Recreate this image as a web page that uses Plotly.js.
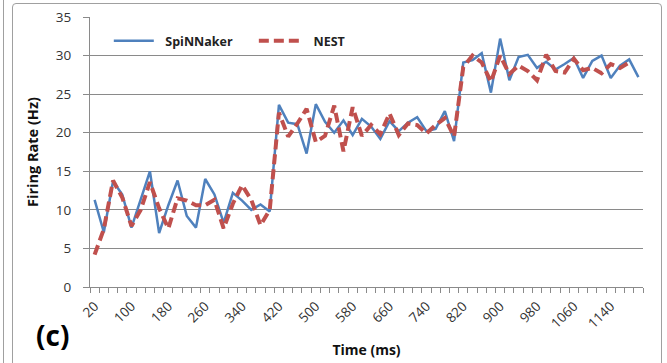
<!DOCTYPE html>
<html>
<head>
<meta charset="utf-8">
<script src="https://cdn.plot.ly/plotly-3.0.1.min.js"></script>
<style>
  html, body { margin: 0; padding: 0; background: #fff; }
  #wrap { position: relative; width: 667px; height: 363px; overflow: hidden; }
  #chart { width: 667px; height: 363px; }
  .frame { position: absolute; pointer-events: none; border: 1px solid #a0a0a0; }
</style>
</head>
<body>
<div id="wrap">
  <div id="chart"></div>
  <div class="frame" style="left:12px; top:3px; width:648px; height:370px; border-radius:4px;"></div>
  <div class="frame" style="left:3px; top:-5px; width:0; height:380px; border-width:0 1px 0 0;"></div>
</div>
<script>
// Time categories (ms)
const timeMs = [20, 40, 60, 80, 100, 120, 140, 160, 180, 200,
                220, 240, 260, 280, 300, 320, 340, 360, 380, 400,
                420, 440, 460, 480, 500, 520, 540, 560, 580, 600,
                620, 640, 660, 680, 700, 720, 740, 760, 780, 800,
                820, 840, 860, 880, 900, 920, 940, 960, 980, 1000,
                1020, 1040, 1060, 1080, 1100, 1120, 1140, 1160, 1180, 1200];

// Firing rate (Hz)
const spinnaker = [11.3, 7.1, 13.7, 12.0, 7.7, 11.2, 15.0, 7.0, 10.6, 13.8,
                   9.2, 7.7, 14.0, 12.0, 8.3, 12.2, 11.2, 10.0, 10.7, 9.8,
                   23.6, 21.3, 21.1, 17.3, 23.7, 21.4, 20.0, 21.6, 19.7, 21.8,
                   20.8, 19.2, 21.5, 20.2, 21.3, 22.0, 20.2, 20.5, 22.8, 18.9,
                   29.1, 29.4, 30.3, 25.2, 32.2, 26.8, 29.8, 30.1, 28.4, 29.2,
                   28.2, 28.9, 29.7, 27.1, 29.3, 30.0, 27.1, 28.7, 29.5, 27.2];

const nest = [4.2, 7.5, 13.8, 11.6, 7.9, 10.0, 13.6, 10.2, 7.6, 11.5,
              11.2, 10.6, 10.6, 11.3, 7.6, 10.8, 13.2, 11.3, 8.0, 10.0,
              22.6, 19.5, 21.2, 23.1, 18.8, 19.6, 23.5, 17.6, 23.3, 19.6,
              21.0, 19.8, 22.5, 19.7, 21.2, 21.0, 19.9, 21.0, 21.9, 19.5,
              28.5, 30.0, 29.1, 26.6, 30.0, 27.6, 28.7, 28.0, 26.8, 30.1,
              28.0, 27.8, 29.6, 28.1, 28.4, 27.7, 28.9, 28.4, 29.1, null];

// Labelled ticks on the time axis
const xTickLabels = [20, 100, 180, 260, 340, 420, 500, 580, 660, 740, 820, 900, 980, 1060, 1140];

const seriesNames = ['SpiNNaker', 'NEST'];

const font = '"Open Sans", "Noto Sans", "Liberation Sans", sans-serif';
const gridGray = '#8a8a8a';
const nb = '\u00A0';

const traces = [
  {
    x: timeMs, y: spinnaker, name: nb + nb + seriesNames[0] + nb + nb + nb + nb + nb,
    type: 'scatter', mode: 'lines',
    line: { color: '#4F81BD', width: 2.5 },
    connectgaps: false
  },
  {
    x: timeMs, y: nest, name: nb + nb + nb + seriesNames[1],
    type: 'scatter', mode: 'lines',
    line: { color: '#C0504D', width: 4, dash: '10px,5px' },
    connectgaps: false
  }
];

const layout = {
  width: 667, height: 363,
  margin: { l: 90, r: 24, t: 17, b: 76 },
  paper_bgcolor: 'rgba(0,0,0,0)',
  plot_bgcolor: '#fff',
  font: { family: font, size: 13, color: '#333' },
  showlegend: true,
  legend: {
    orientation: 'h',
    x: 0.034, xanchor: 'left',
    y: 0.911, yanchor: 'middle',
    bgcolor: 'rgba(255,255,255,0)',
    font: { family: font, size: 12.5, color: '#222', weight: 'bold' },
    itemwidth: 40,
    tracegroupgap: 0
  },
  xaxis: {
    type: 'linear',
    range: [10, 1210],
    tickmode: 'array',
    tickvals: xTickLabels,
    ticktext: xTickLabels.map(String),
    tickangle: -45,
    ticks: '',
    ticklabelstandoff: 5,
    showgrid: false,
    zeroline: false,
    showline: true,
    linecolor: gridGray,
    linewidth: 1,
    tickfont: { family: font, size: 13.5, color: '#333' },
    minor: { ticks: 'outside', ticklen: 5, tickcolor: gridGray, tickwidth: 1, tick0: 10, dtick: 20, showgrid: false },
    title: { text: 'Time (ms)', font: { family: font, size: 14, color: '#111', weight: 'bold' }, standoff: 14 }
  },
  yaxis: {
    range: [0, 35],
    dtick: 5,
    tick0: 0,
    showgrid: true,
    gridcolor: gridGray,
    gridwidth: 1,
    zeroline: false,
    showline: true,
    linecolor: gridGray,
    ticks: 'outside',
    ticklen: 6,
    tickcolor: gridGray,
    ticklabelstandoff: 9,
    tickfont: { family: font, size: 13.5, color: '#333' },
    title: { text: 'Firing Rate (Hz)', font: { family: font, size: 14.5, color: '#111', weight: 'bold' }, standoff: 13 }
  },
  annotations: [
    {
      text: '(c)', xref: 'paper', yref: 'paper',
      x: -0.068, y: -0.178, xanchor: 'center', yanchor: 'middle',
      showarrow: false,
      font: { family: font, size: 28, color: '#000', weight: 'bold' }
    }
  ]
};

Plotly.newPlot('chart', traces, layout, { displayModeBar: false, staticPlot: true });
</script>
</body>
</html>
